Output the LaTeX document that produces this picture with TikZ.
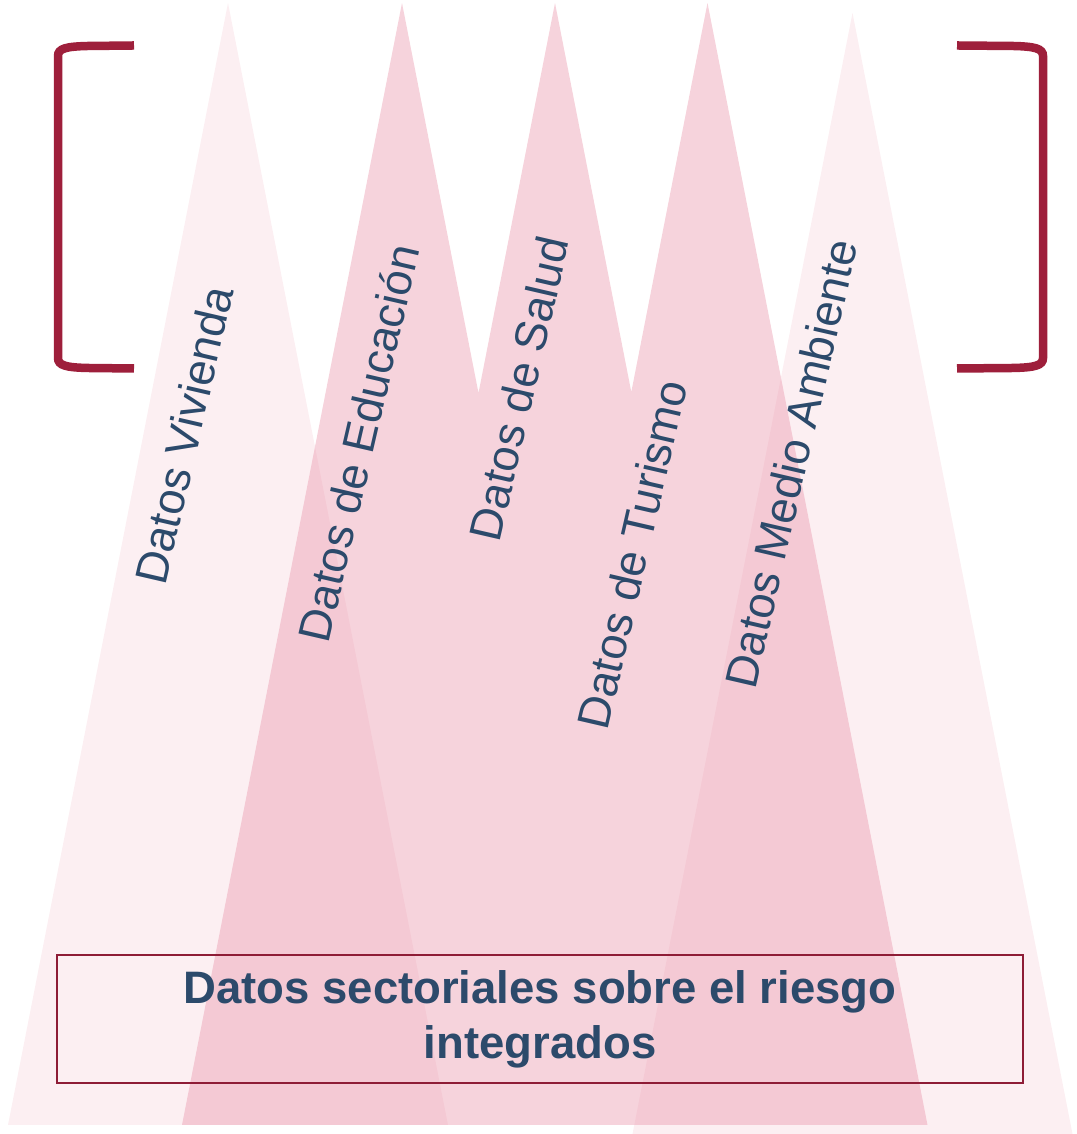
\documentclass[tikz,border=0pt]{standalone}
\usepackage{fontspec}
\setmainfont{Liberation Sans}
\definecolor{bracketred}{HTML}{9E1F3B}
\definecolor{boxred}{HTML}{8E1C36}
\definecolor{txtblue}{HTML}{2C4A6B}
\definecolor{tripink}{HTML}{E6829B}
\begin{document}
\begin{tikzpicture}[x=1pt,y=1pt,
  bracket/.style={draw=bracketred, line width=8.5pt},
  lighttri/.style={fill=tripink, fill opacity=0.13},
  medtri/.style={fill=tripink, fill opacity=0.35},
  lbl/.style={text=txtblue, font=\fontsize{45.3}{54}\selectfont, rotate=77, inner sep=0pt},
  sumbox/.style={draw=boxred, line width=2.5pt, minimum width=966pt, minimum height=128pt,
    align=center, text=txtblue, font=\fontsize{45.5}{55}\selectfont\bfseries, inner sep=0pt}
]
\useasboundingbox (0,0) rectangle (1076,1134);
% triangles
\fill[lighttri] (228,1131) -- (448,9) -- (8,9) -- cycle;
\fill[medtri] (182,9) -- (402,1131) -- (478.5,741) -- (555,1131) -- (631.3,742) -- (707.5,1131) -- (927.5,9) -- cycle;
\fill[lighttri] (852.5,1121) -- (1072.5,0) -- (632.5,0) -- cycle;
% summary box
\node[sumbox] (summary) at (540,115) {Datos sectoriales sobre el riesgo\\integrados};
% brackets
\draw[bracket] (134,1088.5) -- (88,1088) .. controls (66,1087.5) and (58,1085.5) .. (58,1078)
  -- (58,776) .. controls (58,768.5) and (66,766.5) .. (88,766) -- (134,765.5);
\draw[bracket] (957,1088.5) -- (1013,1088) .. controls (1035,1087.5) and (1043,1085.5) .. (1043,1078)
  -- (1043,776) .. controls (1043,768.5) and (1035,766.5) .. (1013,766) -- (957,765.5);
% labels
\node[lbl] (viv) at (184,699) {Datos Vivienda};
\node[lbl] (edu) at (358.5,691) {Datos de Educación};
\node[lbl] (sal) at (519,745.5) {Datos de Salud};
\node[lbl] (tur) at (632,579.5) {Datos de Turismo};
\node[lbl] (med) at (791,670.5) {Datos Medio Ambiente};
\end{tikzpicture}
\end{document}
